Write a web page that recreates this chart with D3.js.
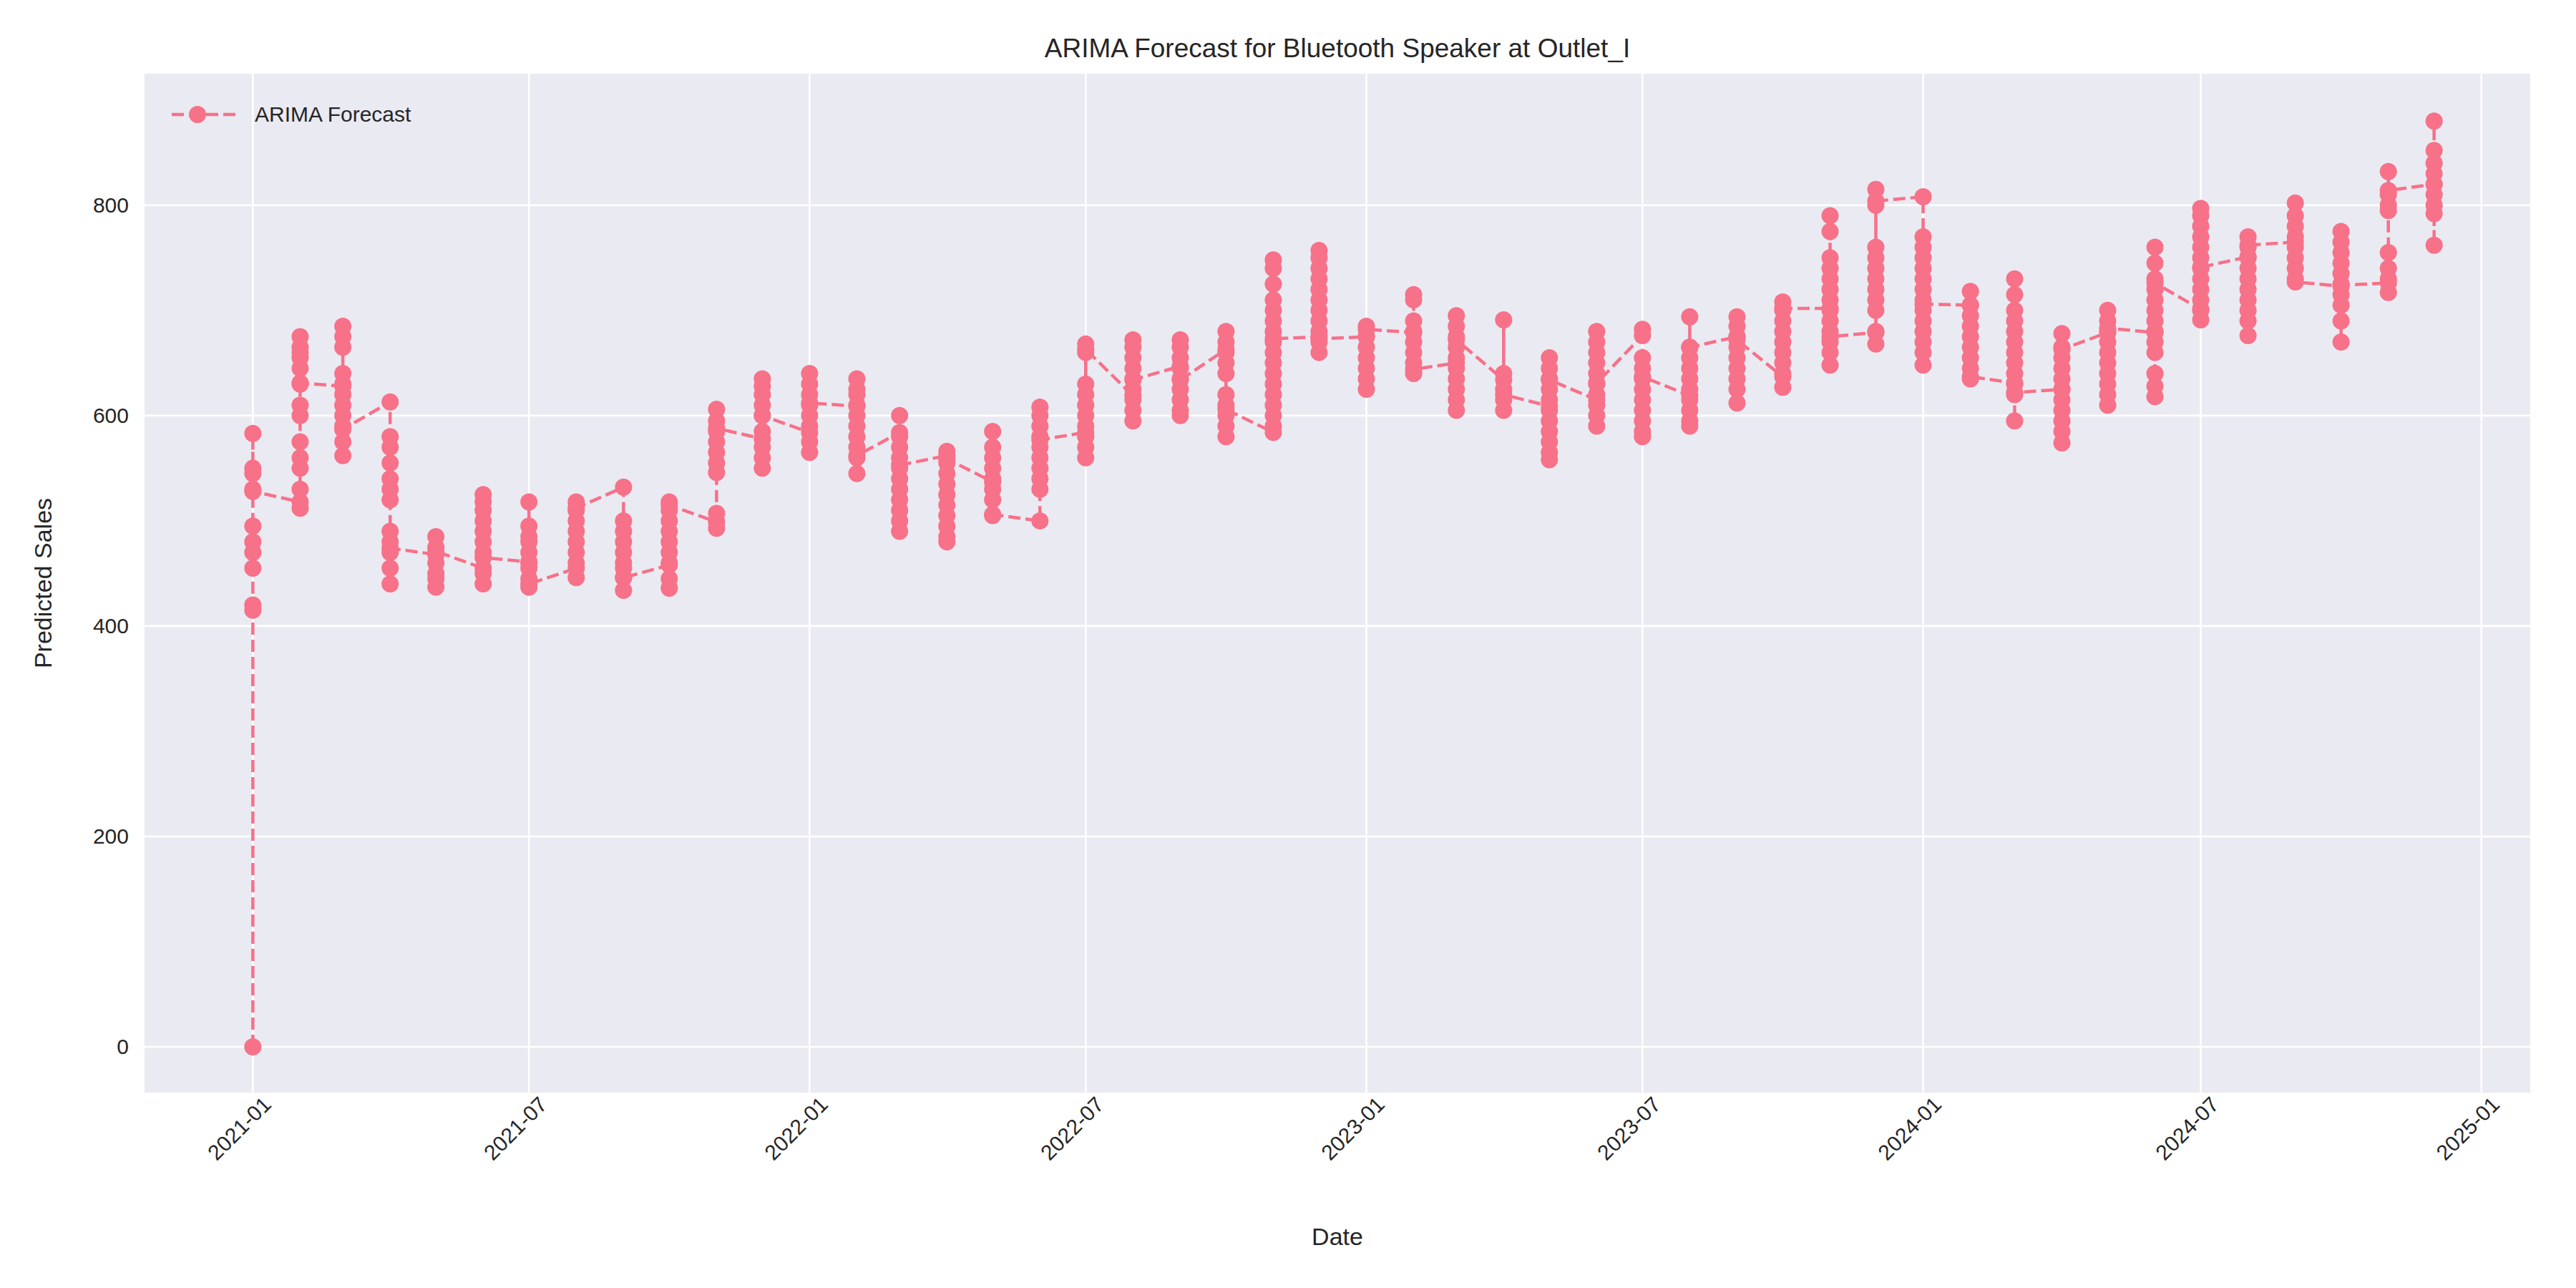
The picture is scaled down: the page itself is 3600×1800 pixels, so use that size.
<!DOCTYPE html>
<html>
<head>
<meta charset="utf-8">
<script src="https://cdn.jsdelivr.net/npm/d3@7"></script>
<style>
  body { margin: 0; background: #fff; }
  text { font-family: Arial, "Liberation Sans", sans-serif; fill: #262626; }
</style>
</head>
<body>
<div id="chart"></div>
<script>
'use strict'

// months of the forecast (first of each month)
const months = d3.timeMonths(new Date(2021, 0, 1), new Date(2025, 0, 1));

// predicted sales per month, in plotting order (first = entry, last = exit)
const forecast = [
  [0, 420, 415, 455, 470, 480, 495, 530, 550, 545, 583, 528],
  [518, 512, 530, 550, 560, 575, 600, 610, 630, 645, 655, 665, 675, 660, 631],
  [628, 685, 675, 665, 640, 630, 620, 610, 600, 590, 575, 562, 587],
  [613, 580, 570, 555, 540, 530, 520, 490, 480, 470, 455, 440, 474],
  [468, 485, 475, 460, 450, 445, 437, 471],
  [455, 440, 450, 470, 480, 490, 500, 510, 518, 525, 465],
  [461, 518, 495, 485, 480, 470, 460, 455, 445, 437, 440],
  [455, 446, 460, 470, 480, 490, 500, 510, 518, 512],
  [532, 500, 490, 480, 470, 460, 455, 446, 434, 446],
  [458, 436, 445, 460, 470, 480, 490, 500, 510, 518, 515],
  [499, 493, 507, 546, 555, 565, 575, 585, 595, 606, 588],
  [578, 550, 560, 570, 585, 600, 610, 620, 628, 635, 600],
  [584, 565, 575, 590, 600, 610, 620, 630, 640, 612],
  [609, 635, 625, 620, 610, 600, 590, 580, 570, 560, 545, 562],
  [584, 600, 580, 570, 560, 550, 540, 530, 520, 510, 500, 490, 553],
  [562, 566, 555, 545, 535, 525, 515, 505, 495, 485, 480, 559],
  [537, 585, 570, 560, 550, 540, 530, 520, 505, 506],
  [500, 608, 600, 590, 580, 570, 560, 550, 540, 530, 577],
  [584, 668, 660, 630, 620, 610, 600, 590, 580, 570, 560, 663],
  [619, 672, 665, 655, 645, 635, 625, 615, 605, 595, 634],
  [647, 672, 665, 655, 645, 635, 625, 615, 605, 600, 634],
  [663, 680, 670, 660, 650, 640, 620, 610, 600, 590, 580, 606],
  [584, 748, 740, 725, 710, 700, 690, 680, 670, 660, 650, 640, 630, 620, 610, 600, 590, 673],
  [675, 757, 750, 740, 730, 720, 710, 700, 690, 680, 670, 660, 673],
  [675, 685, 675, 665, 655, 645, 635, 625, 682],
  [679, 715, 710, 690, 680, 670, 660, 650, 640, 644],
  [650, 695, 685, 675, 665, 655, 645, 635, 625, 615, 605, 672],
  [634, 605, 615, 625, 640, 691, 620],
  [609, 655, 645, 635, 625, 615, 605, 595, 585, 575, 565, 558, 634],
  [615, 680, 670, 660, 650, 640, 630, 620, 610, 600, 590, 631],
  [676, 682, 655, 645, 635, 625, 615, 605, 595, 585, 580, 637],
  [619, 694, 665, 655, 645, 635, 625, 615, 605, 595, 590, 665],
  [675, 694, 685, 675, 665, 655, 645, 635, 625, 612, 672],
  [637, 708, 700, 690, 680, 670, 660, 650, 640, 627, 702],
  [702, 790, 775, 750, 740, 730, 720, 710, 700, 690, 680, 670, 660, 648, 675],
  [679, 815, 800, 760, 750, 740, 730, 720, 710, 700, 680, 668, 804],
  [808, 770, 760, 750, 740, 730, 720, 710, 700, 690, 680, 670, 660, 648, 706],
  [705, 718, 705, 695, 685, 675, 665, 655, 645, 635, 637],
  [631, 730, 715, 700, 690, 680, 670, 660, 650, 640, 630, 620, 595, 622],
  [625, 678, 665, 655, 645, 635, 625, 615, 605, 595, 585, 574, 663],
  [679, 700, 690, 680, 670, 660, 650, 640, 630, 620, 610, 683],
  [679, 760, 745, 730, 720, 710, 700, 690, 680, 670, 660, 640, 628, 618, 726],
  [701, 797, 790, 780, 770, 760, 750, 740, 730, 720, 710, 700, 691, 741],
  [751, 770, 760, 750, 740, 730, 720, 710, 700, 690, 676, 762],
  [765, 802, 790, 780, 770, 760, 750, 740, 730, 727],
  [723, 775, 765, 755, 745, 735, 725, 715, 705, 690, 670, 724],
  [726, 717, 730, 740, 755, 795, 800, 810, 832, 814],
  [820, 762, 792, 800, 810, 820, 830, 840, 852, 880]
];

const yTicks = [0, 200, 400, 600, 800];

const W = 3600, H = 1800;
const margin = { left: 202, right: 64, top: 103, bottom: 273 };

const svg = d3.select('#chart').append('svg')
    .attr('width', W)
    .attr('height', H);

const x = d3.scaleTime()
    .domain([new Date(2020, 9, 22), new Date(2025, 1, 2)])
    .range([margin.left, W - margin.right]);

const y = d3.scaleLinear()
    .domain([-43.5, 925])
    .range([H - margin.bottom, margin.top]);

// background
svg.append('rect')
    .attr('x', margin.left)
    .attr('y', margin.top)
    .attr('width', W - margin.left - margin.right)
    .attr('height', H - margin.top - margin.bottom)
    .attr('fill', '#eaeaf2');

const xTicks = d3.timeMonths(new Date(2021, 0, 1), new Date(2025, 0, 2), 6);

// grid
svg.append('g').selectAll('line')
    .data(xTicks)
    .enter().append('line')
    .attr('x1', d => x(d)).attr('x2', d => x(d))
    .attr('y1', margin.top).attr('y2', H - margin.bottom)
    .attr('stroke', '#fff').attr('stroke-width', 2.6);

svg.append('g').selectAll('line')
    .data(yTicks)
    .enter().append('line')
    .attr('x1', margin.left).attr('x2', W - margin.right)
    .attr('y1', d => y(d)).attr('y2', d => y(d))
    .attr('stroke', '#fff').attr('stroke-width', 2.6);

// axes
const xAxis = svg.append('g')
    .attr('transform', `translate(0,${H - margin.bottom})`)
    .call(d3.axisBottom(x).tickValues(xTicks).tickFormat(d3.timeFormat('%Y-%m')).tickSize(0).tickPadding(14));
xAxis.select('.domain').remove();
xAxis.selectAll('text')
    .attr('font-size', 30)
    .attr('text-anchor', 'end')
    .attr('dx', '0.2em')
    .attr('dy', '0.6em')
    .attr('transform', 'rotate(-45)');

const yAxis = svg.append('g')
    .attr('transform', `translate(${margin.left},0)`)
    .call(d3.axisLeft(y).tickValues(yTicks).tickSize(0).tickPadding(22));
yAxis.select('.domain').remove();
yAxis.selectAll('text').attr('font-size', 30);

// flatten the series in plotting order
const points = [];
forecast.forEach((vals, i) => vals.forEach(v => points.push({ date: months[i], value: v })));

const color = '#f77189';

svg.append('path')
    .datum(points)
    .attr('fill', 'none')
    .attr('stroke', color)
    .attr('stroke-width', 4.5)
    .attr('stroke-dasharray', '17,7')
    .attr('d', d3.line().x(d => x(d.date)).y(d => y(d.value)));

svg.append('g').selectAll('circle')
    .data(points)
    .enter().append('circle')
    .attr('cx', d => x(d.date))
    .attr('cy', d => y(d.value))
    .attr('r', 12)
    .attr('fill', color);

// title and labels
svg.append('text')
    .attr('x', (margin.left + W - margin.right) / 2)
    .attr('y', 80)
    .attr('text-anchor', 'middle')
    .attr('font-size', 37)
    .text('ARIMA Forecast for Bluetooth Speaker at Outlet_I');

svg.append('text')
    .attr('x', (margin.left + W - margin.right) / 2)
    .attr('y', 1740)
    .attr('text-anchor', 'middle')
    .attr('font-size', 34)
    .text('Date');

svg.append('text')
    .attr('transform', `translate(72,${(margin.top + H - margin.bottom) / 2}) rotate(-90)`)
    .attr('text-anchor', 'middle')
    .attr('font-size', 34)
    .text('Predicted Sales');

// legend
const lg = svg.append('g').attr('transform', 'translate(240,160)');
lg.append('line')
    .attr('x1', 0).attr('x2', 92)
    .attr('stroke', color).attr('stroke-width', 4.5)
    .attr('stroke-dasharray', '17,7');
lg.append('circle').attr('cx', 36).attr('r', 12).attr('fill', color);
lg.append('text')
    .attr('x', 116).attr('y', 10)
    .attr('font-size', 30)
    .text('ARIMA Forecast');
</script>
</body>
</html>
